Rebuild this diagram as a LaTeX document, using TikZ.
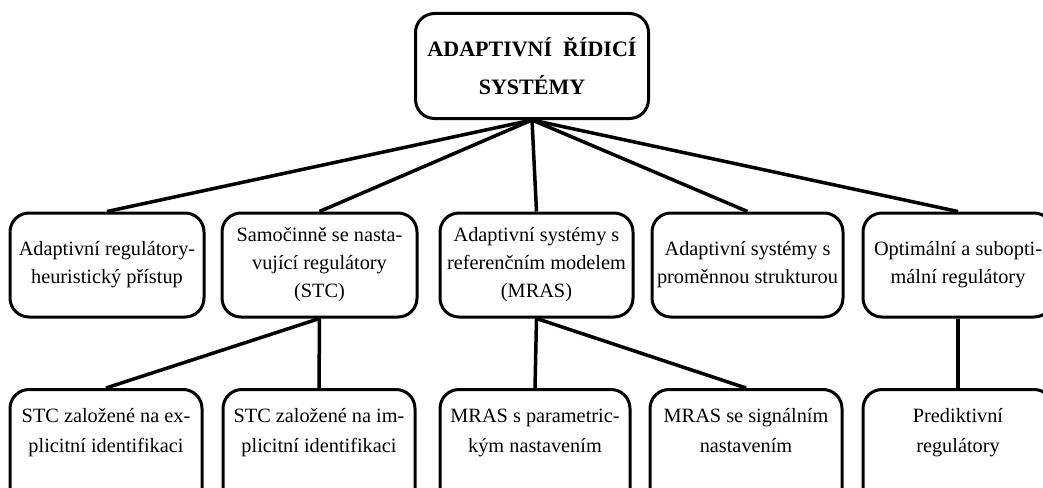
\documentclass[tikz,border=0pt]{standalone}
\usepackage{fontspec}
\setmainfont{Liberation Serif}
\begin{document}
\begin{tikzpicture}[x=1pt,y=-1pt,
  box/.style={draw, line width=3pt, rounded corners=19pt, align=center, inner sep=0pt},
  midtext/.style={font=\fontsize{20.3}{28}\selectfont, text depth=5pt},
  bottext/.style={align=center, inner sep=0pt, text depth=5pt, font=\fontsize{20.3}{30}\selectfont},
  link/.style={line width=3.5pt}]
\useasboundingbox (0,0) rectangle (1043,487);
\clip (0,0) rectangle (1043,487);

\node[box, minimum width=233, minimum height=105, font=\bfseries\fontsize{22}{38}\selectfont] (root) at (532,66) {ADAPTIVNÍ\hspace{0.5em}ŘÍDICÍ\\SYSTÉMY};

\node[box, midtext, minimum width=194, minimum height=104] (m1) at (107,265) {Adaptivní regulátory-\\heuristický přístup};
\node[box, midtext, minimum width=195, minimum height=104] (m2) at (319.5,265) {Samočinně se nasta-\\vující regulátory\\(STC)};
\node[box, midtext, minimum width=193, minimum height=104] (m3) at (536.5,265) {Adaptivní systémy s\\referenčním modelem\\(MRAS)};
\node[box, midtext, minimum width=191, minimum height=104] (m4) at (747.5,265) {Adaptivní systémy s\\proměnnou strukturou};
\node[box, midtext, minimum width=190, minimum height=104] (m5) at (958,265) {Optimální a subopti-\\mální regulátory};

\node[box, anchor=north, minimum width=192, minimum height=120] (b1) at (106,388) {};
\node[box, anchor=north, minimum width=192, minimum height=120] (b2) at (319,388) {};
\node[box, anchor=north, minimum width=190, minimum height=120] (b3) at (535,388) {};
\node[box, anchor=north, minimum width=192, minimum height=120] (b4) at (746,388) {};
\node[box, anchor=north, minimum width=190, minimum height=120] (b5) at (958,388) {};

\node[bottext] (b1t) at (106,433) {STC založené na ex-\\plicitní identifikaci};
\node[bottext] (b2t) at (319,433) {STC založené na im-\\plicitní identifikaci};
\node[bottext] (b3t) at (535,433) {MRAS s parametric-\\kým nastavením};
\node[bottext] (b4t) at (746,433) {MRAS se signálním\\nastavením};
\node[bottext] (b5t) at (958,433) {Prediktivní\\regulátory};

\foreach \m in {m1,m2,m3,m4,m5} \draw[link] (root.south) -- (\m.north);
\draw[link] (m2.south) -- (b1.north);
\draw[link] (m2.south) -- (b2.north);
\draw[link] (m3.south) -- (b3.north);
\draw[link] (m3.south) -- (b4.north);
\draw[link] (m5.south) -- (b5.north);
\end{tikzpicture}
\end{document}
